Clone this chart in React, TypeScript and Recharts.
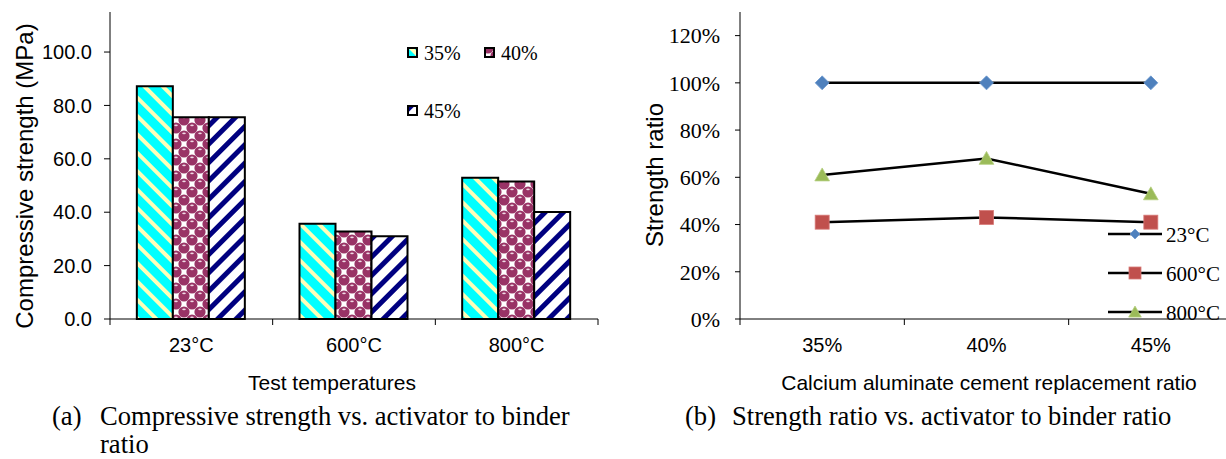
import React from 'react';
import { BarChart, Bar, LineChart, Line, XAxis, YAxis, Legend, Label } from 'recharts';

// (a) compressive strength, MPa
const temperatures = ['23°C', '600°C', '800°C'];
const strength35 = [87.2, 35.7, 52.9];
const strength40 = [75.6, 32.8, 51.5];
const strength45 = [75.6, 31.0, 40.1];
const strengthTicks = [0, 20, 40, 60, 80, 100];
const strengthSeries = [
  { key: 's35', name: '35%', fill: 'url(#pat35)' },
  { key: 's40', name: '40%', fill: 'url(#pat40)' },
  { key: 's45', name: '45%', fill: 'url(#pat45)' },
];

// (b) strength ratio
const replacementRatios = ['35%', '40%', '45%'];
const ratio23 = [1.0, 1.0, 1.0];
const ratio600 = [0.41, 0.43, 0.41];
const ratio800 = [0.61, 0.68, 0.53];
const ratioTicks = [0, 0.2, 0.4, 0.6, 0.8, 1.0, 1.2];
const ratioSeries = [
  { key: 't23', name: '23°C', color: '#4F81BD', shape: 'diamond' },
  { key: 't600', name: '600°C', color: '#C0504D', shape: 'square' },
  { key: 't800', name: '800°C', color: '#9BBB59', shape: 'triangle' },
];

const barData = temperatures.map((temp, i) => ({
  temp,
  s35: strength35[i],
  s40: strength40[i],
  s45: strength45[i],
}));

const lineData = replacementRatios.map((ratio, i) => ({
  ratio,
  t23: ratio23[i],
  t600: ratio600[i],
  t800: ratio800[i],
}));

const SANS = '"Liberation Sans", Arial, sans-serif';
const SERIF = '"Liberation Serif", "Times New Roman", serif';

const CHART_H = 459;
const AXIS_Y = 319;

// left chart box
const L_W = 620;
const L_MARGIN = { top: 12, right: 22, left: 0, bottom: 100 };
const L_YAXIS_W = 110;
const L_BAND = (L_W - L_MARGIN.right - L_YAXIS_W) / temperatures.length;

// right chart box (sits at x = 620, runs past the page edge)
const R_W = 620;
const R_MARGIN = { top: 12, right: 7, left: 0, bottom: 100 };
const R_YAXIS_W = 120;
const R_BAND = (R_W - R_MARGIN.right - R_YAXIS_W) / replacementRatios.length;

// ticks between categories, label in the middle
function categoryTick(band: number, count: number) {
  return (props: any) => {
    const { x, payload } = props;
    const index = props.index ?? payload.index ?? 0;
    return (
      <g>
        <line x1={x - band / 2} x2={x - band / 2} y1={AXIS_Y} y2={AXIS_Y + 6} stroke="#000" />
        {index === count - 1 && (
          <line x1={x + band / 2} x2={x + band / 2} y1={AXIS_Y} y2={AXIS_Y + 6} stroke="#000" />
        )}
        <text x={x} y={AXIS_Y + 33} textAnchor="middle" fontFamily={SANS} fontSize={20} fill="#000">
          {payload.value}
        </text>
      </g>
    );
  };
}

const titleText = (text: string, x: number, y: number, rotate: boolean) => () => (
  <text
    transform={`translate(${x},${y})${rotate ? ' rotate(-90)' : ''}`}
    textAnchor="middle"
    fontFamily={SANS}
    fontSize={rotate ? 24 : 21}
    fill="#000"
  >
    {text}
  </text>
);

function Marker({ shape, color, cx, cy, s }: { shape: string; color: string; cx: number; cy: number; s: number }) {
  if (shape === 'diamond') {
    return (
      <polygon
        points={`${cx},${cy - s} ${cx + s},${cy} ${cx},${cy + s} ${cx - s},${cy}`}
        fill={color}
        stroke="#6f9ad0"
        strokeWidth={0.8}
      />
    );
  }
  if (shape === 'square') {
    return <rect x={cx - s} y={cy - s} width={s * 2} height={s * 2} fill={color} stroke="#d77a78" strokeWidth={0.8} />;
  }
  return (
    <polygon
      points={`${cx},${cy - s} ${cx + s * 1.05},${cy + s * 0.85} ${cx - s * 1.05},${cy + s * 0.85}`}
      fill={color}
      stroke="#b5cf80"
      strokeWidth={0.8}
    />
  );
}

const dotFor = (shape: string, color: string) => (props: any) => (
  <Marker key={`${shape}-${props.index}`} shape={shape} color={color} cx={props.cx} cy={props.cy} s={7} />
);

const legendSlots = [
  { x: 8, y: 8 },
  { x: 85, y: 8 },
  { x: 8, y: 66 },
];

const StrengthLegend = () => (
  <svg width={170} height={90}>
    {strengthSeries.map((s, i) => (
      <g key={s.key}>
        <rect x={legendSlots[i].x} y={legendSlots[i].y} width={9} height={9} fill={s.fill} stroke="#000" strokeWidth={2} />
        <text x={legendSlots[i].x + 16} y={legendSlots[i].y + 11.5} fontFamily={SERIF} fontSize={20} fill="#000">
          {s.name}
        </text>
      </g>
    ))}
  </svg>
);

const RatioLegend = () => (
  <svg width={160} height={120}>
    {ratioSeries.map((s, i) => {
      const y = 20 + i * 39;
      return (
        <g key={s.key}>
          <line x1={8} x2={62} y1={y} y2={y} stroke="#000" strokeWidth={2.5} />
          <Marker shape={s.shape} color={s.color} cx={35} cy={y} s={s.shape === 'diamond' ? 5 : 6} />
          <text x={66} y={y + 8} fontFamily={SERIF} fontSize={21} fill="#000">
            {s.name}
          </text>
        </g>
      );
    })}
  </svg>
);

const captionStyle: React.CSSProperties = {
  position: 'absolute',
  top: 402,
  fontFamily: SERIF,
  fontSize: 26.6,
  lineHeight: '28px',
  whiteSpace: 'nowrap',
  color: '#000',
};

export default function App() {
  return (
    <div
      style={{
        position: 'absolute',
        left: 0,
        top: 0,
        width: 1226,
        height: 459,
        overflow: 'hidden',
        background: '#fff',
      }}
    >
      <div style={{ position: 'absolute', left: 0, top: 0 }}>
        <BarChart width={L_W} height={CHART_H} data={barData} margin={L_MARGIN} barGap={0} barCategoryGap="16.5%">
          <defs>
            <pattern id="pat35" width="13" height="13" patternUnits="userSpaceOnUse" patternTransform="rotate(-45)">
              <rect width="13" height="13" fill="#00FFFF" />
              <rect x="0" width="4" height="13" fill="#FFFFB8" />
            </pattern>
            <pattern id="pat45" width="13" height="13" patternUnits="userSpaceOnUse" patternTransform="rotate(45)">
              <rect width="13" height="13" fill="#FFFFFF" />
              <rect x="0" width="5" height="13" fill="#000080" />
            </pattern>
            <pattern id="pat40" width="16" height="16" patternUnits="userSpaceOnUse">
              <rect width="16" height="16" fill="#FFFFFF" />
              {[
                [0, 0],
                [16, 0],
                [0, 16],
                [16, 16],
                [8, 8],
              ].map(([cx, cy]) => (
                <g key={`${cx}-${cy}`}>
                  <circle cx={cx} cy={cy} r={5.6} fill="#993366" />
                  <ellipse cx={cx} cy={cy - 2.6} rx={1.8} ry={0.8} fill="#f0d8e4" />
                </g>
              ))}
            </pattern>
          </defs>
          <XAxis
            dataKey="temp"
            height={40}
            interval={0}
            tickLine={false}
            axisLine={{ stroke: '#000' }}
            tick={categoryTick(L_BAND, temperatures.length)}
          >
            <Label content={titleText('Test temperatures', 332, 390, false)} />
          </XAxis>
          <XAxis xAxisId="top" orientation="top" dataKey="temp" height={0} tick={false} tickLine={false} axisLine={{ stroke: '#000' }} />
          <YAxis
            width={L_YAXIS_W}
            domain={[0, 115]}
            ticks={strengthTicks}
            tickFormatter={(v: number) => v.toFixed(1)}
            tickSize={6}
            tickMargin={12}
            tickLine={{ stroke: '#000' }}
            axisLine={{ stroke: '#000' }}
            tick={{ fill: '#000', fontFamily: SANS, fontSize: 20 }}
          >
            <Label content={titleText('Compressive strength (MPa)', 33, 176, true)} />
          </YAxis>
          <YAxis yAxisId="right" orientation="right" width={0} tick={false} tickLine={false} axisLine={{ stroke: '#000' }} />
          {strengthSeries.map((s) => (
            <Bar key={s.key} dataKey={s.key} name={s.name} fill={s.fill} stroke="#000" strokeWidth={2} isAnimationActive={false} />
          ))}
          <Legend
            layout="horizontal"
            verticalAlign="middle"
            align="center"
            content={StrengthLegend}
            wrapperStyle={{ position: 'absolute', left: 400, top: 40, width: 170, height: 90 }}
          />
        </BarChart>
      </div>

      <div style={{ position: 'absolute', left: 620, top: 0 }}>
        <LineChart width={R_W} height={CHART_H} data={lineData} margin={R_MARGIN}>
          <XAxis
            dataKey="ratio"
            height={40}
            interval={0}
            tickLine={false}
            axisLine={{ stroke: '#000' }}
            padding={{ left: R_BAND / 2, right: R_BAND / 2 }}
            tick={categoryTick(R_BAND, replacementRatios.length)}
          >
            <Label content={titleText('Calcium aluminate cement replacement ratio', 369, 390, false)} />
          </XAxis>
          <XAxis xAxisId="top" orientation="top" dataKey="ratio" height={0} tick={false} tickLine={false} axisLine={{ stroke: '#000' }} />
          <YAxis
            width={R_YAXIS_W}
            domain={[0, 1.3]}
            ticks={ratioTicks}
            tickFormatter={(v: number) => `${Math.round(v * 100)}%`}
            tickSize={5}
            tickMargin={15}
            tickLine={{ stroke: '#000' }}
            axisLine={{ stroke: '#000' }}
            tick={{ fill: '#000', fontFamily: SERIF, fontSize: 22 }}
          >
            <Label content={titleText('Strength ratio', 43, 175, true)} />
          </YAxis>
          {ratioSeries.map((s) => (
            <Line
              key={s.key}
              dataKey={s.key}
              name={s.name}
              stroke="#000"
              strokeWidth={2.5}
              dot={dotFor(s.shape, s.color)}
              activeDot={false}
              isAnimationActive={false}
            />
          ))}
          <Legend
            layout="horizontal"
            verticalAlign="middle"
            align="center"
            content={RatioLegend}
            wrapperStyle={{ position: 'absolute', left: 480, top: 214, width: 160, height: 120 }}
          />
        </LineChart>
      </div>

      <div style={{ ...captionStyle, left: 52 }}>(a)</div>
      <div style={{ ...captionStyle, left: 100 }}>
        Compressive strength vs. activator to binder
        <br />
        ratio
      </div>
      <div style={{ ...captionStyle, left: 685 }}>(b)</div>
      <div style={{ ...captionStyle, left: 732 }}>Strength ratio vs. activator to binder ratio</div>
    </div>
  );
}
